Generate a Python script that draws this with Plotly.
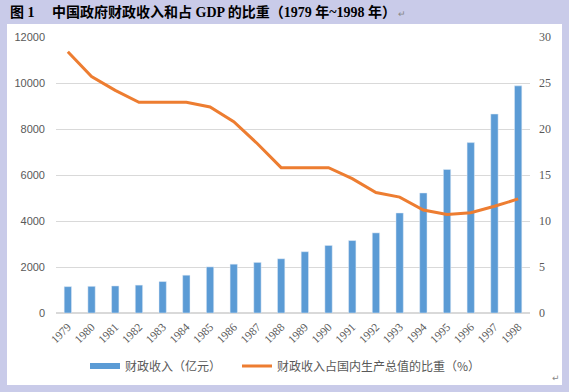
import plotly.graph_objects as go

years = [str(y) for y in range(1979, 1999)]
revenue = [1146.4, 1159.9, 1175.8, 1212.3, 1367.0, 1642.9, 2004.8, 2122.0, 2199.4, 2357.2,
           2664.9, 2937.1, 3149.5, 3483.4, 4349.0, 5218.1, 6242.2, 7408.0, 8651.1, 9876.0]
ratio = [28.4, 25.7, 24.2, 22.9, 22.9, 22.9, 22.4, 20.8, 18.4, 15.8,
         15.8, 15.8, 14.6, 13.1, 12.6, 11.2, 10.7, 10.9, 11.6, 12.4]
name_bar = "财政收入（亿元）"
name_line = "财政收入占国内生产总值的比重（%）"
title = "图 1\u3000 中国政府财政收入和占 GDP 的比重（1979 年~1998 年）"

BLUE = "#5B9BD5"
ORANGE = "#ED7D31"
GREY = "#595959"
LAV = "#C9CBE9"

W, H = 569, 392
L, R, T, B = 56, 39, 37, 79
pw, ph = W - L - R, H - T - B


def px2paper_x(px):
    return (px - L) / pw


def px2paper_y(py):
    return (H - B - py) / ph


fig = go.Figure()
fig.add_trace(go.Bar(x=years, y=revenue, name=name_bar, marker_color=BLUE,
                     showlegend=False, yaxis="y"))
fig.add_trace(go.Scatter(x=[None], y=[None], mode="lines", name=name_bar,
                         line=dict(color=BLUE, width=6), legend="legend"))
fig.add_trace(go.Scatter(x=years, y=ratio, name=name_line, mode="lines",
                         line=dict(color=ORANGE, width=3), yaxis="y2", legend="legend2"))

legend_common = dict(orientation="h", yanchor="middle", y=px2paper_y(366),
                     font=dict(family="Noto Sans CJK SC", size=12, color=GREY),
                     bgcolor="rgba(0,0,0,0)", itemwidth=30, xanchor="left")

fig.update_layout(
    width=W, height=H,
    margin=dict(l=L, r=R, t=T, b=B, autoexpand=False),
    paper_bgcolor=LAV,
    plot_bgcolor="rgba(0,0,0,0)",
    bargap=0.69,
    xaxis=dict(type="category", tickangle=-45, showgrid=False, showline=False,
               ticks="", tickfont=dict(family="Liberation Serif", size=11.5, color=GREY),
               range=[-0.5, 19.5], ticklabelstandoff=4),
    yaxis=dict(range=[0, 12000], dtick=2000, tickformat="d", showgrid=True, gridcolor="#D9D9D9",
               gridwidth=1, zeroline=True, zerolinecolor="#D9D9D9", showline=False, ticks="",
               tickfont=dict(family="Liberation Sans", size=11, color=GREY), ticklabelstandoff=10),
    yaxis2=dict(range=[0, 30], dtick=5, overlaying="y", side="right", showgrid=False,
                zeroline=False, showline=False, ticks="",
                tickfont=dict(family="Liberation Serif", size=12, color=GREY), ticklabelstandoff=8),
    legend=dict(legend_common, x=px2paper_x(85)),
    legend2=dict(legend_common, x=px2paper_x(237)),
    shapes=[dict(type="rect", xref="paper", yref="paper",
                 x0=px2paper_x(7), x1=px2paper_x(562), y0=px2paper_y(385), y1=px2paper_y(24),
                 fillcolor="white", line=dict(width=0), layer="below")],
    annotations=[
        dict(text="<b>" + title + "</b><span style='font-size:9px;color:#888888'> ↵</span>",
             xref="paper", yref="paper", x=px2paper_x(8),
             y=px2paper_y(12), xanchor="left", yanchor="middle", showarrow=False,
             font=dict(family="Liberation Serif, Noto Sans CJK SC", size=14, color="black")),
        dict(text="↵", xref="paper", yref="paper", x=px2paper_x(556), y=px2paper_y(378),
             xanchor="center", yanchor="middle", showarrow=False,
             font=dict(family="DejaVu Sans", size=9, color="#888888")),
    ],
)

fig.write_html("out.html", config={"displayModeBar": False},
               post_script="document.body.style.margin='0';document.body.style.background='%s';" % LAV)
